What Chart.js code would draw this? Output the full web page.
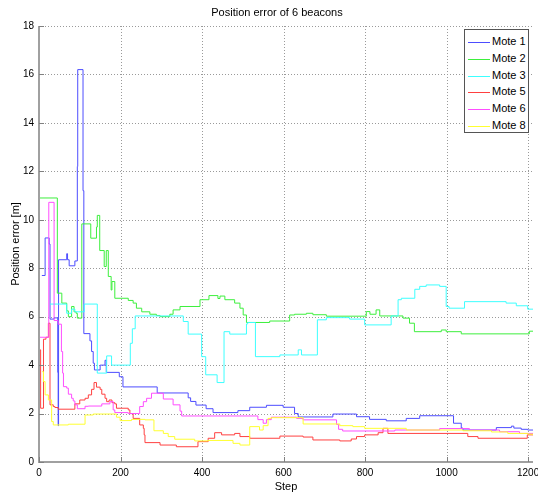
<!DOCTYPE html>
<html>
<head>
<meta charset="utf-8">
<title>Position error of 6 beacons</title>
<script src="https://cdn.jsdelivr.net/npm/chart.js@4.4.0/dist/chart.umd.min.js"></script>
<style>
  html, body { margin: 0; padding: 0; background: #fff; }
  #wrap { position: relative; width: 538px; height: 497px; overflow: hidden; }
  #plot { position: absolute; left: 0; top: 0; }
  #title {
    position: absolute; left: 0; top: 6px; width: 554px; text-align: center;
    font: 11px "Liberation Sans", Arial, sans-serif; line-height: 13px; color: #000;
  }
  #legend {
    position: absolute; left: 464px; top: 29px; width: 63px; height: 102px;
    border: 1px solid #555; background: #fff;
  }
  #legend .row { position: absolute; left: 0; height: 14px; width: 63px; }
  #legend .swatch { position: absolute; left: 3px; top: 7px; width: 22px; height: 1px; }
  #legend .txt {
    position: absolute; left: 27px; top: 0; line-height: 14px;
    font: 11px "Liberation Sans", Arial, sans-serif; color: #000; white-space: nowrap;
  }
</style>
</head>
<body>
<div id="wrap">
  <canvas id="plot" width="538" height="497"></canvas>
  <div id="title">Position error of 6 beacons</div>
  <div id="legend"></div>
</div>
<script>
// Axis ticks
const xTicks = [0, 200, 400, 600, 800, 1000, 1200];
const yTicks = [0, 2, 4, 6, 8, 10, 12, 14, 16, 18];

// Position error per mote: [step, error in m]; each value holds until the next step
const mote1 = [
  [7,7.7],[15,9.25],[25,9.0],[27,5.9],[37,5.95],[46,3.7],[47,1.5],[48,8.35],[68,8.6],[70,8.35],
  [74,8.1],[88,8.3],[94,12.2],[95,16.2],[108,11.2],[110,5.3],[125,5.0],[129,4.56],[133,4.08],
  [136,3.8],[150,4.0],[162,4.2],[165,3.7],[197,3.52],[206,3.1],[290,2.85],[366,2.65],[372,2.5],
  [385,2.35],[410,2.2],[427,2.04],[488,2.12],[517,2.26],[558,2.34],[599,2.26],[627,2.0],
  [636,1.86],[721,1.98],[779,1.87],[811,1.76],[852,1.7],[901,1.8],[934,1.91],[1017,1.6],
  [1036,1.4],[1040,1.32],[1122,1.42],[1159,1.48],[1165,1.4],[1183,1.35],[1199,1.32],[1212,1.32]
];
const mote2 = [
  [0,10.9],[45,6.97],[56,6.56],[68,6.24],[72,6.0],[80,6.42],[86,6.2],[91,6.14],[94,5.94],
  [105,9.83],[127,9.24],[141,9.7],[143,10.18],[149,8.73],[160,8.07],[165,8.73],[170,7.66],
  [177,7.1],[179,7.45],[186,6.76],[219,6.67],[231,6.56],[239,6.35],[252,6.2],[272,6.1],
  [288,6.05],[297,6.0],[321,6.1],[329,6.28],[346,6.42],[395,6.7],[417,6.87],[439,6.75],
  [444,6.85],[456,6.7],[480,6.56],[493,6.35],[501,6.07],[509,5.76],[566,5.82],[615,6.07],
  [627,6.1],[656,6.14],[672,6.08],[705,6.02],[803,6.21],[812,6.1],[827,6.28],[836,6.03],
  [893,5.94],[909,5.73],[921,5.38],[987,5.45],[999,5.38],[1036,5.29],[1203,5.4],[1212,5.4]
];
const mote3 = [
  [27,6.52],[68,6.14],[80,6.31],[88,6.2],[111,6.52],[143,3.67],[166,4.38],[178,4.0],[224,4.9],
  [229,5.5],[236,6.03],[354,5.8],[366,5.28],[399,4.35],[409,3.6],[437,3.28],[454,5.38],
  [468,5.28],[509,5.7],[512,5.76],[531,4.35],[591,4.42],[636,4.63],[644,4.42],[683,5.87],
  [705,5.96],[762,5.9],[799,5.66],[864,6.03],[881,6.7],[889,6.76],[922,7.13],[934,7.25],
  [950,7.31],[983,7.25],[999,6.42],[1006,6.35],[1044,6.62],[1146,6.56],[1171,6.45],
  [1199,6.31],[1212,6.31]
];
const mote5 = [
  [0,4.63],[4,2.22],[11,5.07],[17,5.15],[23,5.73],[27,2.36],[35,2.29],[39,2.25],[47,2.18],
  [88,2.4],[100,2.56],[113,2.63],[121,2.77],[129,3.0],[135,3.28],[141,3.09],[150,3.0],
  [154,2.8],[162,2.63],[166,2.49],[172,2.56],[179,2.45],[186,2.4],[190,2.22],[219,2.15],
  [223,2.0],[231,1.8],[247,1.53],[256,1.39],[258,1.12],[260,0.8],[297,0.7],[337,0.63],
  [390,0.84],[415,0.98],[431,1.21],[448,1.12],[480,1.18],[493,1.05],[517,0.98],[591,1.07],
  [648,1.03],[672,0.91],[738,0.87],[766,0.95],[779,1.05],[799,1.12],[832,1.21],[844,1.39],
  [856,1.18],[1052,1.05],[1077,0.98],[1198,1.12],[1212,1.12]
];
const mote6 = [
  [2,5.15],[24,10.72],[37,5.84],[47,5.69],[55,4.56],[58,3.67],[60,3.11],[68,3.05],[72,2.8],
  [80,2.63],[84,2.52],[88,2.36],[94,2.2],[113,2.3],[121,2.31],[154,2.4],[174,2.49],[182,2.15],
  [186,2.04],[219,2.0],[247,2.29],[256,2.49],[264,2.63],[276,2.84],[305,2.6],[329,2.36],
  [346,2.1],[350,1.9],[537,1.75],[550,1.6],[558,1.75],[570,1.85],[632,1.8],[648,1.74],
  [730,1.55],[735,1.35],[745,1.28],[873,1.32],[983,1.38],[1056,1.32],[1130,1.25],[1179,1.18],
  [1212,1.15]
];
const mote8 = [
  [8,3.73],[11,3.32],[15,2.77],[23,2.56],[31,1.67],[35,1.53],[72,1.56],[113,1.94],[133,1.98],
  [190,1.85],[199,1.71],[227,1.76],[260,1.74],[282,1.29],[305,1.18],[317,1.05],[333,0.94],
  [382,0.87],[415,0.89],[476,0.77],[493,0.7],[517,1.46],[541,1.32],[550,1.5],[562,1.8],
  [570,1.83],[648,1.57],[738,1.5],[770,1.46],[799,1.39],[901,1.32],[1040,1.29],[1110,1.24],
  [1150,1.18],[1200,1.15],[1212,1.1]
];

const seriesNames = ['Mote 1', 'Mote 2', 'Mote 3', 'Mote 5', 'Mote 6', 'Mote 8'];
const seriesData = [mote1, mote2, mote3, mote5, mote6, mote8];
const seriesColors = ['#4d4dff', '#3def3d', '#3dffff', '#ff4040', '#ff4dff', '#ffff30'];

const FONT = '"Liberation Sans", Arial, Helvetica, sans-serif';

// Dotted grid, grey axis lines and inward tick marks
const axesDecor = {
  id: 'axesDecor',
  beforeDatasetsDraw(chart) {
    const { ctx, chartArea: a, scales: { x, y } } = chart;
    ctx.save();
    ctx.strokeStyle = '#9a9a9a';
    ctx.lineWidth = 1;
    ctx.setLineDash([1, 2]);
    x.ticks.forEach(t => {
      if (t.value === 0) return;
      const px = Math.round(x.getPixelForValue(t.value)) + 0.5;
      ctx.beginPath(); ctx.moveTo(px, a.top); ctx.lineTo(px, a.bottom); ctx.stroke();
    });
    y.ticks.forEach(t => {
      if (t.value === 0) return;
      const py = Math.round(y.getPixelForValue(t.value)) + 0.5;
      ctx.beginPath(); ctx.moveTo(a.left, py); ctx.lineTo(a.right, py); ctx.stroke();
    });
    ctx.restore();
  },
  afterDatasetsDraw(chart) {
    const { ctx, chartArea: a, scales: { x, y } } = chart;
    ctx.save();
    ctx.fillStyle = '#a0a0a0';
    ctx.fillRect(a.left - 1, a.top, 2, a.bottom - a.top + 1);
    ctx.fillRect(a.left - 1, a.bottom - 1, a.right - a.left + 1, 2);
    ctx.strokeStyle = '#808080';
    ctx.lineWidth = 1;
    x.ticks.forEach(t => {
      const px = Math.round(x.getPixelForValue(t.value)) + 0.5;
      ctx.beginPath(); ctx.moveTo(px, a.bottom); ctx.lineTo(px, a.bottom - 5); ctx.stroke();
    });
    y.ticks.forEach(t => {
      const py = Math.round(y.getPixelForValue(t.value)) + 0.5;
      ctx.beginPath(); ctx.moveTo(a.left, py); ctx.lineTo(a.left + 5, py); ctx.stroke();
    });
    ctx.restore();
  }
};

const n = seriesNames.length;
new Chart(document.getElementById('plot'), {
  type: 'line',
  data: {
    datasets: seriesNames.map((name, i) => ({
      label: name,
      data: seriesData[i].map(([s, v]) => ({ x: s, y: v })),
      borderColor: seriesColors[i],
      backgroundColor: seriesColors[i],
      borderWidth: 1,
      pointRadius: 0,
      stepped: true,
      fill: false,
      order: n - 1 - i
    }))
  },
  options: {
    responsive: false,
    animation: false,
    devicePixelRatio: 1,
    layout: { padding: { top: 26, right: 5, left: 0, bottom: 0 } },
    plugins: {
      legend: { display: false },
      tooltip: { enabled: false },
      title: { display: false }
    },
    scales: {
      x: {
        type: 'linear', min: 0, max: 1212,
        grid: { display: false, drawTicks: false },
        border: { display: false },
        afterBuildTicks: s => { s.ticks = xTicks.map(v => ({ value: v })); },
        afterFit: s => { s.height = 35; s.paddingLeft = 0; s.paddingRight = 0; },
        ticks: {
          color: '#000', font: { family: FONT, size: 10 }, padding: 5, maxRotation: 0, autoSkip: false,
          callback: v => String(v)
        },
        title: { display: true, text: 'Step', color: '#000', font: { family: FONT, size: 11 }, padding: { top: 0, bottom: 3 } }
      },
      y: {
        type: 'linear', min: 0, max: 18,
        grid: { display: false, drawTicks: false },
        border: { display: false },
        afterBuildTicks: s => { s.ticks = yTicks.map(v => ({ value: v })); },
        afterFit: s => { s.width = 39; s.paddingTop = 0; s.paddingBottom = 0; },
        ticks: { color: '#000', font: { family: FONT, size: 10 }, padding: 5, autoSkip: false, callback: v => String(v) },
        title: { display: true, text: 'Position error [m]', color: '#000', font: { family: FONT, size: 11 }, padding: { top: 9, bottom: 0 } }
      }
    }
  },
  plugins: [axesDecor]
});

// Legend box in the upper right of the plot
const legend = document.getElementById('legend');
const rowCentres = [12, 29, 46, 62, 79, 96];
seriesNames.forEach((name, i) => {
  const row = document.createElement('div');
  row.className = 'row';
  row.style.top = (rowCentres[i] - 7) + 'px';
  const sw = document.createElement('span');
  sw.className = 'swatch';
  sw.style.background = seriesColors[i];
  const tx = document.createElement('span');
  tx.className = 'txt';
  tx.textContent = name;
  row.appendChild(sw);
  row.appendChild(tx);
  legend.appendChild(row);
});
</script>
</body>
</html>
